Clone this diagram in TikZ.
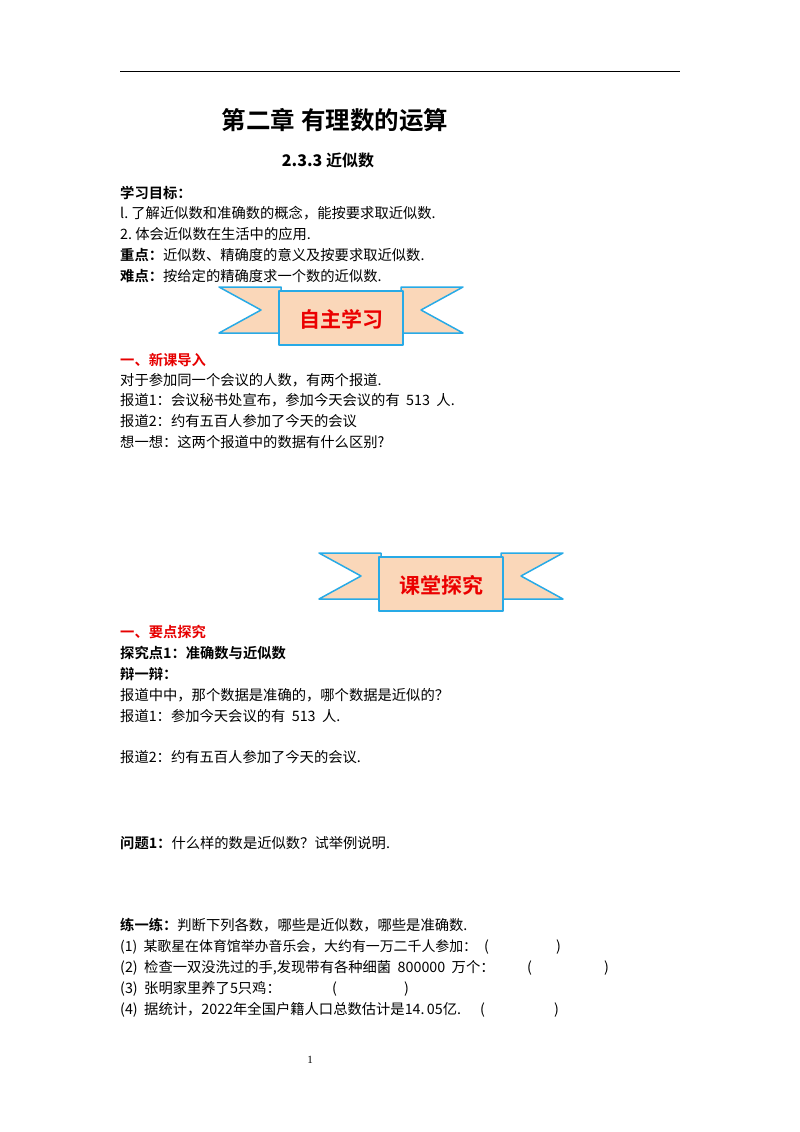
\documentclass[tikz,border=0pt]{standalone}
\usepackage{fontspec}
\setmainfont{Liberation Serif}
\newfontfamily\cjk{Noto Sans CJK SC}
\newfontfamily\cjkb{Noto Sans CJK SC Bold}
\begin{document}
\begin{tikzpicture}[x=1pt,y=-1pt,
  t/.style={anchor=west,inner sep=0pt,font=\fontsize{14.3}{15}\selectfont\cjk},
  tb/.style={anchor=west,inner sep=0pt,font=\fontsize{14.3}{15}\selectfont\cjkb},
  tr/.style={tb,text={rgb,255:red,230;green,0;blue,0}},
  bn/.style={fill={rgb,255:red,250;green,215;blue,185},draw={rgb,255:red,40;green,170;blue,230},line width=1.5pt,line join=round}]
\useasboundingbox (0,0) rectangle (800,1132);
\draw[line width=1pt] (120,72) -- (680,72);
\node[anchor=center,font=\fontsize{24.5}{26}\selectfont\cjkb] (title) at (335,120) {第二章\ 有理数的运算};
\node[anchor=center,font=\fontsize{16}{17}\selectfont\cjkb] (sub) at (328,160) {\textbf{2.3.3}\ 近似数};
\node[tb] (g) at (120,193) {学习目标：};
\node[t] (g1) at (120,213) {l.\ 了解近似数和准确数的概念，能按要求取近似数.};
\node[t] (g2) at (120,234) {2.\ 体会近似数在生活中的应用.};
\node[t] (g3) at (120,255) {{\cjkb 重点：}近似数、精确度的意义及按要求取近似数.};
\node[t] (g4) at (120,276) {{\cjkb 难点：}按给定的精确度求一个数的近似数.};
\tikzset{banner/.pic={
  \path[bn] (-122,-23) -- (-60,-23) -- (-60,23) -- (-122,23) -- (-80,0) -- cycle;
  \path[bn] (122,-23) -- (60,-23) -- (60,23) -- (122,23) -- (80,0) -- cycle;
  \path[bn] (-62,-19) rectangle (62,35);
  \node[font=\fontsize{21}{23}\selectfont\cjkb,text={rgb,255:red,235;green,0;blue,0}] at (0,9) {\tikzpictext};
}}
\pic[pic text=自主学习] (b1) at (341,310) {banner};
\node[tr] (n1) at (120,360) {一、新课导入};
\node[t] (a1) at (120,380) {对于参加同一个会议的人数，有两个报道.};
\node[t] (a2) at (120,400) {报道1：会议秘书处宣布，参加今天会议的有\ \ 513\ \ 人.};
\node[t] (a3) at (120,421) {报道2：约有五百人参加了今天的会议};
\node[t] (a4) at (120,442) {想一想：这两个报道中的数据有什么区别?};
\pic[pic text=课堂探究] (b2) at (441,576) {banner};
\node[tr] (n2) at (120,632) {一、要点探究};
\node[tb] (c1) at (120,653) {探究点1：准确数与近似数};
\node[tb] (c2) at (120,674) {辩一辩：};
\node[t] (c3) at (120,695) {报道中中，那个数据是准确的，哪个数据是近似的？};
\node[t] (c4) at (120,716) {报道1：参加今天会议的有\ \ 513\ \ 人.};
\node[t] (c5) at (120,757) {报道2：约有五百人参加了今天的会议.};
\node[t] (q1) at (120,843) {{\cjkb 问题1：}什么样的数是近似数？试举例说明.};
\node[t] (p0) at (120,925) {{\cjkb 练一练：}判断下列各数，哪些是近似数，哪些是准确数.};
\node[t,font=\fontsize{13.9}{15}\selectfont\cjk] (p1) at (120,947) {(1)\ \ 某歌星在体育馆举办音乐会，大约有一万二千人参加：};
\node[t] (p2) at (120,968) {(2)\ \ 检查一双没洗过的手,发现带有各种细菌\ \ 800000\ \ 万个：};
\node[t] (p3) at (120,989) {(3)\ \ 张明家里养了5只鸡：};
\node[t] (p4) at (120,1010) {(4)\ \ 据统计，2022年全国户籍人口总数估计是14.\,05亿.};
\node[t] (l1) at (484,947) {(}; \node[t] (r1) at (556,947) {)};
\node[t] (l2) at (527,968) {(}; \node[t] (r2) at (604,968) {)};
\node[t] (l3) at (332,989) {(}; \node[t] (r3) at (404,989) {)};
\node[t] (l4) at (480,1010) {(}; \node[t] (r4) at (554,1010) {)};
\node[anchor=center,font=\fontsize{11}{12}\selectfont] (pg) at (310,1060) {1};
\end{tikzpicture}
\end{document}
